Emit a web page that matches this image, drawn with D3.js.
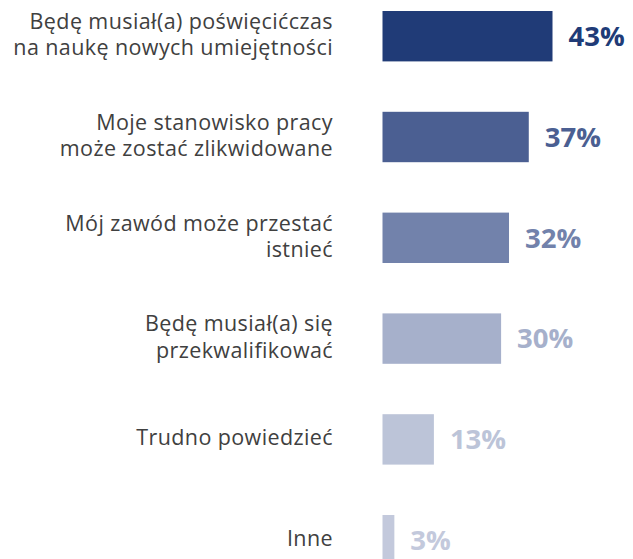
<!DOCTYPE html>
<html>
<head>
<meta charset="utf-8">
<script src="https://cdn.jsdelivr.net/npm/d3@7"></script>
<style>
  body { margin: 0; background: #fff; }
</style>
</head>
<body>
<div id="chart"></div>
<script>
// data
var categories = [
    ["Będę musiał(a) poświęcićczas", "na naukę nowych umiejętności"],
    ["Moje stanowisko pracy", "może zostać zlikwidowane"],
    ["Mój zawód może przestać", "istnieć"],
    ["Będę musiał(a) się", "przekwalifikować"],
    ["Trudno powiedzieć"],
    ["Inne"]
]
var values = [43, 37, 32, 30, 13, 3]
var colors = ["#203b77", "#4b5f92", "#7282ab", "#a6b0cb", "#bcc4d8", "#c3c9dc"]

var width = 633, height = 559
var barLeft = 382.5

var svg = d3.select("#chart")
    .append("svg")
    .attr("width", width)
    .attr("height", height)

var x = d3.scaleLinear()
    .domain([0, 43])
    .range([0, 170])

var y = d3.scaleBand()
    .domain(d3.range(values.length))
    .range([-14.2, 590.6])
    .paddingInner(0.5)
    .paddingOuter(0.25)

var rows = svg.selectAll("g.row")
    .data(values)
    .enter().append("g")
    .attr("class", "row")
    .attr("transform", (d, i) => "translate(0," + y(i) + ")")

//bars
rows.append("rect")
    .attr("x", barLeft)
    .attr("y", 0)
    .attr("width", d => x(d))
    .attr("height", y.bandwidth())
    .attr("fill", (d, i) => colors[i])

//value labels
rows.append("text")
    .attr("x", d => barLeft + x(d) + 16)
    .attr("y", y.bandwidth() / 2)
    .attr("dy", "0.36em")
    .style("font-family", "'Open Sans', sans-serif")
    .style("font-weight", "bold")
    .style("font-size", "27.5px")
    .style("fill", (d, i) => colors[i])
    .text(d => d + "%")

//category labels
var lineH = 26.5
rows.append("text")
    .attr("text-anchor", "end")
    .style("font-family", "'Open Sans', sans-serif")
    .style("font-size", "21.5px")
    .style("letter-spacing", "0.4px")
    .style("fill", "#404040")
    .each(function (d, i) {
        var lines = categories[i]
        var t = d3.select(this)
        var start = y.bandwidth() / 2 - (lines.length - 1) * lineH / 2 - 1.5
        lines.forEach((l, j) => {
            t.append("tspan")
                .attr("x", 333)
                .attr("y", start + j * lineH)
                .attr("dy", "0.35em")
                .text(l)
        })
    })
</script>
</body>
</html>
